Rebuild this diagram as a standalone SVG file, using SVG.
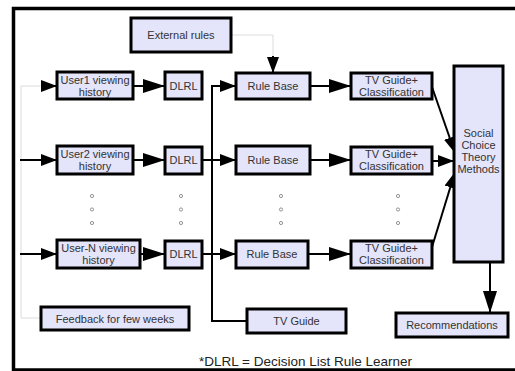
<svg xmlns="http://www.w3.org/2000/svg" width="515" height="371" viewBox="0 0 515 371">
<style>
.box{fill:#e4e4fa;stroke:#000;stroke-width:3}
.t{font-family:"Liberation Sans",Arial,sans-serif;font-size:11px;fill:#333;text-anchor:middle}
.ln{fill:none;stroke:#000;stroke-width:2}
.fa{fill:none;stroke:#dcdcdc;stroke-width:1}
.dot{fill:none;stroke:#888;stroke-width:0.9}
</style>
<defs>
<marker id="aL" markerUnits="userSpaceOnUse" markerWidth="22" markerHeight="14" refX="22" refY="7" orient="auto"><path d="M0,0 L22,7 L0,14 z" fill="#000"/></marker>
<marker id="aS" markerUnits="userSpaceOnUse" markerWidth="16" markerHeight="12" refX="16" refY="6" orient="auto"><path d="M0,0 L16,6 L0,12 z" fill="#000"/></marker>
</defs>
<rect x="0" y="0" width="515" height="371" fill="#fff"/>
<rect x="13.5" y="8.5" width="520" height="361.5" fill="none" stroke="#000" stroke-width="3.5"/>

<g id="connectors">
<path class="fa" d="M41,318 H21 V86 H42"/>
<path class="ln" d="M42,86 H57" marker-end="url(#aS)"/>
<path class="ln" d="M20,160 H57" marker-end="url(#aS)"/>
<path class="ln" d="M20,254 H57" marker-end="url(#aS)"/>
<path class="ln" d="M133,86 H165" marker-end="url(#aL)"/>
<path class="ln" d="M133,160 H165" marker-end="url(#aL)"/>
<path class="ln" d="M140,254 H165" marker-end="url(#aL)"/>
<path class="ln" d="M202,160 H236" marker-end="url(#aS)"/>
<path class="ln" d="M202,254 H236" marker-end="url(#aS)"/>
<path class="ln" d="M247,321 H212 V86 H236" marker-end="url(#aS)"/>
<path class="fa" d="M231,35 H273 V56"/>
<path class="ln" d="M273,56 V73" marker-end="url(#aS)"/>
<path class="ln" d="M310,86 H351" marker-end="url(#aL)"/>
<path class="ln" d="M310,160 H351" marker-end="url(#aL)"/>
<path class="ln" d="M308,254 H351" marker-end="url(#aL)"/>
<path class="ln" d="M432,87 L455,153" marker-end="url(#aS)"/>
<path class="ln" d="M432,161 H454" marker-end="url(#aS)"/>
<path class="ln" d="M432,247 L455,172" marker-end="url(#aS)"/>
<path class="ln" d="M490,262 V313" marker-end="url(#aL)"/>
</g>

<g id="ext"><rect class="box" x="131" y="18" width="100" height="34"/><text class="t" x="181" y="39">External rules</text></g>
<g id="user1"><rect class="box" x="57" y="72" width="76" height="27"/><text class="t" x="95" y="84">User1 viewing</text><text class="t" x="95" y="96">history</text></g>
<g id="user2"><rect class="box" x="57" y="146" width="76" height="28"/><text class="t" x="95" y="158">User2 viewing</text><text class="t" x="95" y="170">history</text></g>
<g id="userN"><rect class="box" x="57" y="240" width="83" height="28"/><text class="t" x="98.5" y="252">User-N  viewing</text><text class="t" x="98.5" y="264">history</text></g>
<g id="dlrl1"><rect class="box" x="165" y="72" width="37" height="27"/><text class="t" x="183.5" y="90">DLRL</text></g>
<g id="dlrl2"><rect class="box" x="165" y="147" width="37" height="27"/><text class="t" x="183.5" y="164">DLRL</text></g>
<g id="dlrlN"><rect class="box" x="165" y="241" width="37" height="27"/><text class="t" x="183.5" y="258">DLRL</text></g>
<g id="rb1"><rect class="box" x="236" y="73" width="74" height="26"/><text class="t" x="273" y="90">Rule Base</text></g>
<g id="rb2"><rect class="box" x="236" y="146" width="74" height="28"/><text class="t" x="273" y="164">Rule Base</text></g>
<g id="rbN"><rect class="box" x="236" y="241" width="72" height="27"/><text class="t" x="272" y="258">Rule Base</text></g>
<g id="tv1"><rect class="box" x="351" y="73" width="81" height="26"/><text class="t" x="391.5" y="84">TV Guide+</text><text class="t" x="391.5" y="96">Classification</text></g>
<g id="tv2"><rect class="box" x="351" y="147" width="81" height="27"/><text class="t" x="391.5" y="158">TV Guide+</text><text class="t" x="391.5" y="170">Classification</text></g>
<g id="tvN"><rect class="box" x="351" y="241" width="81" height="27"/><text class="t" x="391.5" y="252">TV Guide+</text><text class="t" x="391.5" y="264">Classification</text></g>
<g id="social"><rect class="box" x="454" y="66" width="49" height="196"/><text class="t" x="478.5" y="137">Social</text><text class="t" x="478.5" y="149">Choice</text><text class="t" x="478.5" y="161">Theory</text><text class="t" x="478.5" y="173">Methods</text></g>
<g id="feedback"><rect class="box" x="41" y="307" width="148" height="23"/><text class="t" x="115" y="322.5">Feedback for few weeks</text></g>
<g id="tvguide"><rect class="box" x="247" y="309" width="99" height="24"/><text class="t" x="296.5" y="325">TV Guide</text></g>
<g id="rec"><rect class="box" x="396" y="313" width="112" height="24"/><text class="t" x="452" y="329">Recommendations</text></g>

<g id="dots">
<circle class="dot" cx="92" cy="196" r="1.6"/><circle class="dot" cx="92" cy="209.5" r="1.6"/><circle class="dot" cx="92" cy="223" r="1.6"/>
<circle class="dot" cx="181" cy="196" r="1.6"/><circle class="dot" cx="181" cy="209.5" r="1.6"/><circle class="dot" cx="181" cy="223" r="1.6"/>
<circle class="dot" cx="281" cy="196" r="1.6"/><circle class="dot" cx="281" cy="209.5" r="1.6"/><circle class="dot" cx="281" cy="223" r="1.6"/>
<circle class="dot" cx="398" cy="196" r="1.6"/><circle class="dot" cx="398" cy="209.5" r="1.6"/><circle class="dot" cx="398" cy="223" r="1.6"/>
</g>
<text x="199" y="366" font-family="'Liberation Sans',Arial,sans-serif" font-size="13.5" fill="#222">*DLRL = Decision List Rule Learner</text>
</svg>
